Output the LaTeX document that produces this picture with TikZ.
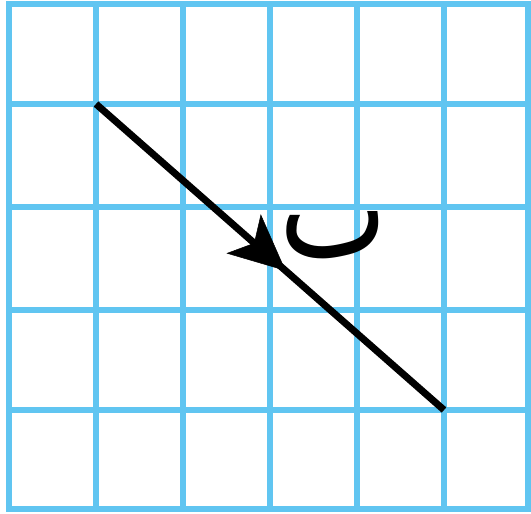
\documentclass[tikz,border=0pt]{standalone}
\usepackage{fontspec}
\usepackage{graphicx}
\usetikzlibrary{arrows.meta,calc}
\TeXXeTstate=1
\newfontfamily\arabicfont[Script=Arabic]{DejaVu Sans}
\definecolor{gridblue}{RGB}{96,197,241}
\tikzset{
  gridline/.style={draw=gridblue,line width=6bp},
  vec/.style={draw=black,line width=7bp},
}
\begin{document}
\begin{tikzpicture}[x=1bp,y=-1bp]
\useasboundingbox (0,0) rectangle (531,514);
\foreach \x in {9,96,183,270,357,444,528}
  \draw[gridline] (\x,4) -- (\x,509);
\foreach \y in {4,104,207,310,410,509}
  \draw[gridline] (9,\y) -- (528,\y);
\draw[gridline,line cap=rect] (9,4) rectangle (528,509);
\coordinate (s) at (96,104);
\coordinate (e) at (444,410);
\draw[vec] (s) -- (e);
\coordinate (m) at ($(s)!0.545!(e)$);
\path[draw=black,line width=0.5bp,fill=black,-{Stealth[length=56bp,width=52bp,inset=14bp]}] (s) -- (m);
\node[inner sep=0pt] (lbl) at (333,235) {\resizebox{108bp}{46bp}{\arabicfont\beginR ٮ\endR}};
\end{tikzpicture}
\end{document}
